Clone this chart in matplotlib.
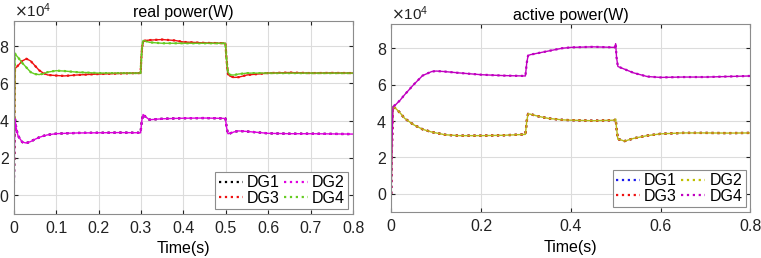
import numpy as np
import matplotlib.pyplot as plt
from matplotlib.ticker import ScalarFormatter

plt.rcParams['font.family'] = ['Liberation Sans', 'DejaVu Sans']

# ---- left panel: real power (x1e4 W) ----
t_real = [0, 0.003, 0.006, 0.01, 0.02, 0.03, 0.04, 0.05, 0.06, 0.07, 0.08, 0.1, 0.12, 0.15,
          0.2, 0.25, 0.299, 0.302, 0.305, 0.31, 0.32, 0.35, 0.38, 0.4, 0.45, 0.499, 0.502,
          0.505, 0.51, 0.52, 0.53, 0.55, 0.6, 0.65, 0.7, 0.75, 0.8]
p_dg1 = [0, 4.1, 3.6, 3.2, 2.85, 2.8, 2.88, 3.0, 3.1, 3.18, 3.24, 3.3, 3.32, 3.34,
         3.35, 3.36, 3.35, 4.0, 4.33, 4.22, 4.05, 4.1, 4.12, 4.13, 4.14, 4.12, 3.6,
         3.3, 3.32, 3.4, 3.45, 3.42, 3.32, 3.3, 3.3, 3.29, 3.28]
p_dg2 = p_dg1
p_dg3 = [0, 6.8, 6.85, 6.95, 7.2, 7.32, 7.2, 6.95, 6.7, 6.55, 6.45, 6.42, 6.4, 6.45,
         6.5, 6.53, 6.55, 7.8, 8.25, 8.3, 8.32, 8.35, 8.3, 8.22, 8.17, 8.15, 7.2,
         6.5, 6.38, 6.32, 6.33, 6.45, 6.55, 6.58, 6.55, 6.56, 6.55]
p_dg4 = [0, 7.6, 7.5, 7.4, 7.1, 6.85, 6.6, 6.5, 6.47, 6.52, 6.6, 6.68, 6.66, 6.6,
         6.55, 6.55, 6.55, 7.8, 8.3, 8.28, 8.2, 8.15, 8.15, 8.15, 8.15, 8.15, 7.2,
         6.6, 6.45, 6.45, 6.5, 6.55, 6.55, 6.55, 6.55, 6.55, 6.55]

# ---- right panel: active power (x1e4 W) ----
t_act = [0, 0.002, 0.004, 0.01, 0.02, 0.03, 0.05, 0.07, 0.09, 0.1, 0.12, 0.15, 0.2,
         0.25, 0.299, 0.302, 0.305, 0.31, 0.33, 0.35, 0.38, 0.4, 0.45, 0.498, 0.5,
         0.502, 0.505, 0.51, 0.52, 0.54, 0.57, 0.6, 0.65, 0.7, 0.75, 0.8]
a_dg4 = [0, 3.0, 4.8, 4.9, 5.15, 5.45, 6.0, 6.5, 6.72, 6.75, 6.72, 6.65, 6.55,
         6.5, 6.48, 7.2, 7.6, 7.65, 7.75, 7.85, 8.0, 8.05, 8.08, 8.05, 8.25,
         7.5, 7.0, 6.95, 6.85, 6.65, 6.45, 6.4, 6.42, 6.42, 6.45, 6.48]
a_dg1 = [0, 3.0, 4.8, 4.7, 4.45, 4.15, 3.8, 3.55, 3.4, 3.35, 3.25, 3.2, 3.2,
         3.22, 3.27, 4.0, 4.4, 4.38, 4.25, 4.15, 4.07, 4.05, 4.02, 4.05, 4.12,
         3.6, 3.0, 2.98, 2.9, 3.05, 3.2, 3.3, 3.35, 3.35, 3.34, 3.35]
a_dg2 = a_dg1
a_dg3 = a_dg1

xticks_left = [0, 0.1, 0.2, 0.3, 0.4, 0.5, 0.6, 0.7, 0.8]
xticks_right = [0, 0.2, 0.4, 0.6, 0.8]
yticks = [0, 2, 4, 6, 8]

fig = plt.figure(figsize=(7.61, 2.58), dpi=100)
ax1 = fig.add_axes([0.018, 0.171, 0.446, 0.748])
ax2 = fig.add_axes([0.514, 0.178, 0.472, 0.730])


def style(ax, xticks, title):
    ax.set_xlim(0, 0.8)
    ax.set_ylim(-1e4, 9.35e4)
    ax.set_xticks(xticks)
    ax.set_xticklabels([('%g' % v) for v in xticks])
    ax.set_yticks([v * 1e4 for v in yticks])
    fmt = ScalarFormatter(useMathText=True)
    fmt.set_powerlimits((0, 0))
    ax.yaxis.set_major_formatter(fmt)
    ax.yaxis.get_offset_text().set_fontsize(11)
    ax.yaxis.get_offset_text().set_color('#333333')
    ax.grid(True, color='#dcdcdc', linewidth=0.8)
    ax.set_axisbelow(True)
    ax.tick_params(direction='in', length=3, labelsize=11.5, colors='#222222',
                   top=True, right=True, pad=5)
    ax.tick_params(axis='y', pad=3)
    for s in ax.spines.values():
        s.set_color('#8c8c8c')
        s.set_linewidth(0.8)
    ax.set_title(title, fontsize=11.5, pad=3)
    ax.set_xlabel('Time(s)', fontsize=11.5, labelpad=4)


kw = dict(linestyle=':', linewidth=1.6)
s = 1e4
l1, = ax1.plot(t_real, np.array(p_dg1) * s, color='black', label='DG1', **kw)
l2, = ax1.plot(t_real, np.array(p_dg2) * s, color='#e000e0', label='DG2', **kw)
l3, = ax1.plot(t_real, np.array(p_dg3) * s, color='#ee1111', label='DG3', **kw)
l4, = ax1.plot(t_real, np.array(p_dg4) * s, color='#66cc22', label='DG4', **kw)
# solid-looking traces of the overlaid curves
ax1.plot(t_real, np.array(p_dg3) * s, color='#ee1111', linewidth=1.0)
ax1.plot(t_real, np.array(p_dg4) * s, color='#66cc22', linewidth=1.0)
ax1.plot(t_real, np.array(p_dg2) * s, color='#dd00dd', linewidth=1.0)
style(ax1, xticks_left, 'real power(W)')

r1, = ax2.plot(t_act, np.array(a_dg1) * s, color='#1a1aee', label='DG1', **kw)
r2, = ax2.plot(t_act, np.array(a_dg2) * s, color='#c0c000', label='DG2', **kw)
r3, = ax2.plot(t_act, np.array(a_dg3) * s, color='#ee1111', label='DG3', **kw)
r4, = ax2.plot(t_act, np.array(a_dg4) * s, color='#c000c0', label='DG4', **kw)
ax2.plot(t_act, np.array(a_dg2) * s, color='#b8b818', linewidth=1.0)
ax2.plot(t_act, np.array(a_dg4) * s, color='#c000c0', linewidth=1.0)
style(ax2, xticks_right, 'active power(W)')

leg_kw = dict(loc='lower right', ncol=2, fontsize=11.5, handlelength=1.5,
              handletextpad=0.25, columnspacing=0.3, labelspacing=0.05,
              borderpad=0.2, borderaxespad=0.3, fancybox=False, framealpha=1)
lg1 = ax1.legend([l1, l3, l2, l4], ['DG1', 'DG3', 'DG2', 'DG4'], **leg_kw)
lg2 = ax2.legend([r1, r3, r2, r4], ['DG1', 'DG3', 'DG2', 'DG4'], **leg_kw)
for lg in (lg1, lg2):
    lg.get_frame().set_edgecolor('#8c8c8c')
    lg.get_frame().set_linewidth(0.8)

fig.savefig('out.png', dpi=100)
